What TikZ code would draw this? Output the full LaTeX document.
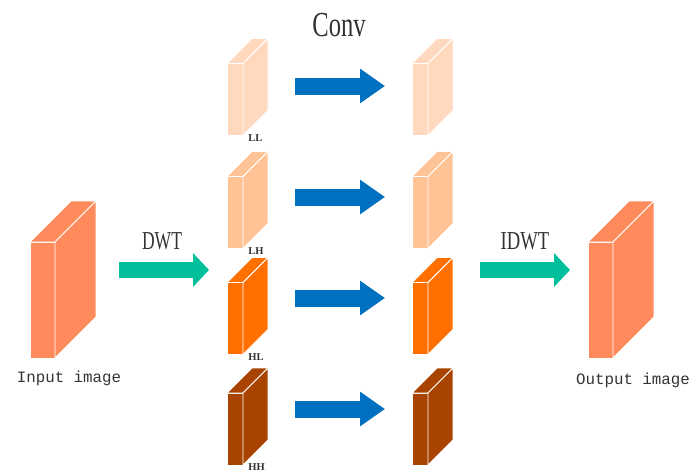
\documentclass[tikz,border=0pt]{standalone}
\usepackage{fontspec}
\setmainfont{Liberation Serif}
\setmonofont{Liberation Mono}
\usetikzlibrary{arrows.meta,positioning}

\definecolor{imgc}{RGB}{255,138,92}
\definecolor{llc}{RGB}{255,216,190}
\definecolor{lhc}{RGB}{255,195,150}
\definecolor{hlc}{RGB}{255,112,0}
\definecolor{hhc}{RGB}{168,68,0}
\definecolor{convc}{RGB}{0,112,192}
\definecolor{wavec}{RGB}{0,191,154}

% top and side faces of a slab, #1 node, #2 colour, #3 depth
\newcommand{\slab}[3]{%
  \filldraw[face, fill=#2] (#1.north west) -- ([shift={(#3,-#3)}]#1.north west)
    -- ([shift={(#3,-#3)}]#1.north east) -- (#1.north east) -- cycle;
  \filldraw[face, fill=#2] (#1.north east) -- ([shift={(#3,-#3)}]#1.north east)
    -- ([shift={(#3,-#3)}]#1.south east) -- (#1.south east) -- cycle;
}

\begin{document}
\begin{tikzpicture}[
    x=0.02cm, y=-0.02cm,
    face/.style={draw=white, line width=0.5pt, line join=round},
    bigslab/.style={rectangle, draw=white, line width=0.5pt, inner sep=0pt, outer sep=0pt, minimum width=0.5cm, minimum height=2.32cm},
    smallslab/.style={rectangle, draw=white, line width=0.5pt, inner sep=0pt, outer sep=0pt, minimum width=0.32cm, minimum height=1.44cm},
    caption/.style={font=\ttfamily\fontsize{9}{10}\selectfont, text=black!80},
    title/.style={text=black!80, inner sep=0pt},
    band/.style={font=\bfseries\fontsize{6}{6}\selectfont, text=black!80, inner sep=0pt, anchor=base west},
    convarrow/.style={line width=0.34cm, draw=convc, -{Triangle[length=0.5cm, width=0.66cm]}},
    wavearrow/.style={line width=0.32cm, draw=wavec, -{Triangle[length=0.32cm, width=0.66cm]}},
]
\useasboundingbox (0,0) rectangle (691,474);

% Input image
\node[bigslab, fill=imgc] (input) at (42.5,300) {};
\slab{input}{imgc}{41}
\node[caption] (input-lbl) at (69,378) {Input image};

% Output image
\node[bigslab, fill=imgc] (output) at (600.5,300) {};
\slab{output}{imgc}{41}
\node[caption] (output-lbl) at (633,380) {Output image};

% Sub-bands after DWT
\node[smallslab, fill=llc] (LL) at (235,99.5) {};
\slab{LL}{llc}{25}
\node[band] (LL-lbl) at ([shift={(5,6)}]LL.south east) {LL};
\node[smallslab, fill=lhc] (LH) at (235,212.5) {};
\slab{LH}{lhc}{25}
\node[band] (LH-lbl) at ([shift={(5,6)}]LH.south east) {LH};
\node[smallslab, fill=hlc] (HL) at (235,318.5) {};
\slab{HL}{hlc}{25}
\node[band] (HL-lbl) at ([shift={(5,6)}]HL.south east) {HL};
\node[smallslab, fill=hhc] (HH) at (235,429) {};
\slab{HH}{hhc}{25}
\node[band] (HH-lbl) at ([shift={(5,6)}]HH.south east) {HH};

% Sub-bands after Conv
\node[smallslab, fill=llc] (LL-c) at (420,99.5) {};
\slab{LL-c}{llc}{25}
\node[smallslab, fill=lhc] (LH-c) at (420,212.5) {};
\slab{LH-c}{lhc}{25}
\node[smallslab, fill=hlc] (HL-c) at (420,318.5) {};
\slab{HL-c}{hlc}{25}
\node[smallslab, fill=hhc] (HH-c) at (420,429) {};
\slab{HH-c}{hhc}{25}

% Titles
\node[title] (conv) at (339,25) {\fontsize{20}{20}\selectfont\scalebox{0.7}[1]{Conv}};
\node[title] (dwt) at (162,241) {\fontsize{14.7}{15}\selectfont\scalebox{0.68}[1]{DWT}};
\node[title] (idwt) at (525,241) {\fontsize{14.7}{15}\selectfont\scalebox{0.72}[1]{IDWT}};

% Arrow ends
\coordinate (dwt-a) at (119,270);
\coordinate (dwt-b) at (209,270);
\coordinate (idwt-a) at (480,270);
\coordinate (idwt-b) at (570,270);
\coordinate (LL-a) at (295,86);
\coordinate (LL-b) at (385,86);
\coordinate (LH-a) at (295,197);
\coordinate (LH-b) at (385,197);
\coordinate (HL-a) at (295,298);
\coordinate (HL-b) at (385,298);
\coordinate (HH-a) at (295,409);
\coordinate (HH-b) at (385,409);

% Arrows
\draw[wavearrow] (dwt-a) -- (dwt-b);
\draw[wavearrow] (idwt-a) -- (idwt-b);
\draw[convarrow] (LL-a) -- (LL-b);
\draw[convarrow] (LH-a) -- (LH-b);
\draw[convarrow] (HL-a) -- (HL-b);
\draw[convarrow] (HH-a) -- (HH-b);
\end{tikzpicture}
\end{document}
